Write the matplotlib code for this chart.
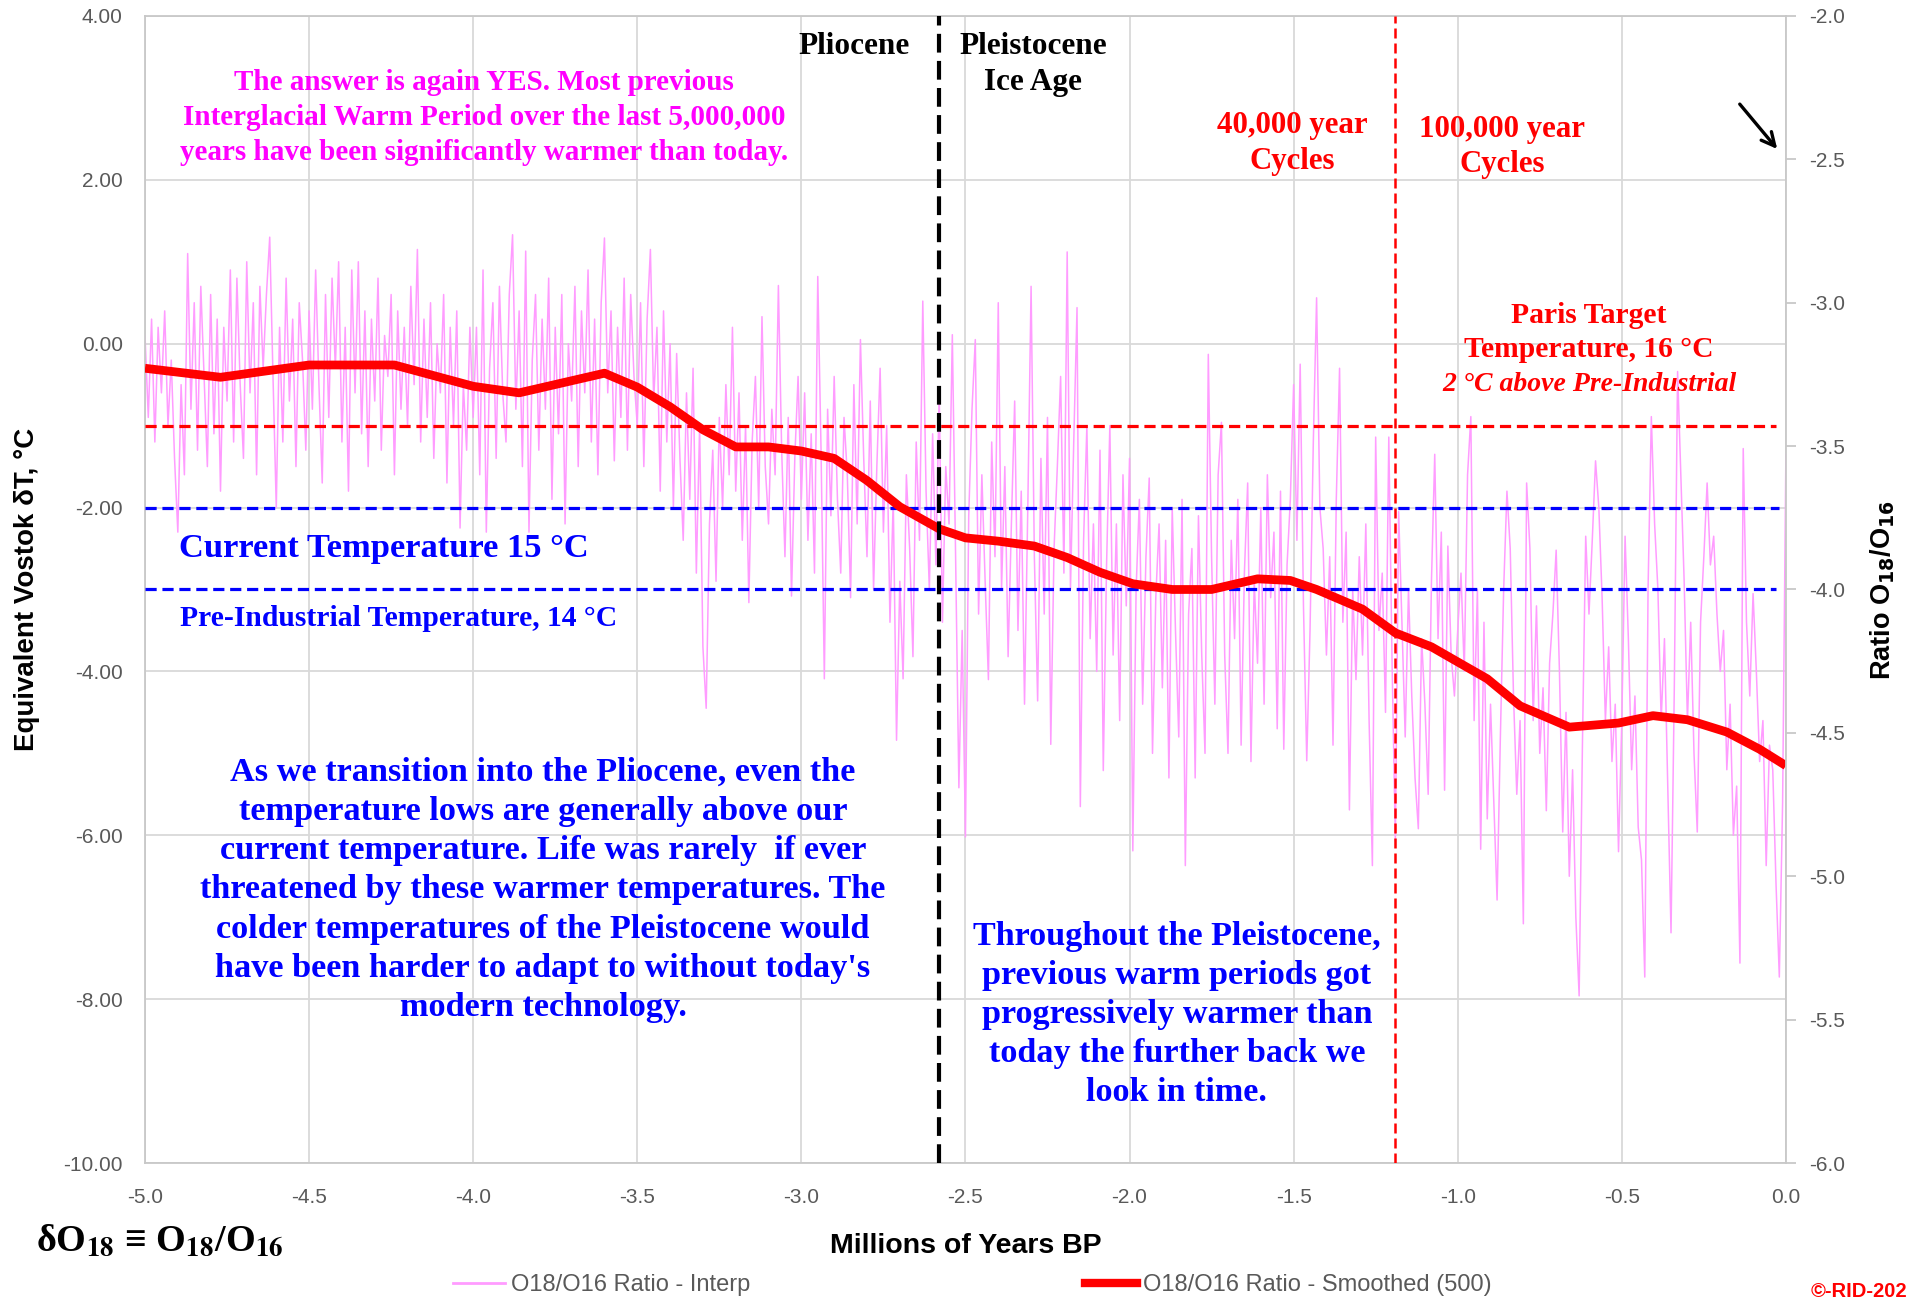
import numpy as np
import matplotlib
matplotlib.use("Agg")
import matplotlib.pyplot as plt
from matplotlib.lines import Line2D

plt.rcParams['font.family'] = ['Liberation Sans', 'DejaVu Sans']

# ---- data ----
# interpolated O18/O16 series, expressed as equivalent Vostok dT, one value per 10 kyr
interp_age = np.round(np.arange(-5.0, 0.0001, 0.01), 2)
interp_t = [
    0.1, -0.9, 0.3, -1.2, 0.2, -0.6, 0.4, -1.0, -0.2, -1.4,
    -2.3, -0.5, -1.6, 1.1, -0.8, 0.5, -1.3, 0.7, -0.4, -1.5,
    0.6, -1.1, 0.3, -1.8, 0.2, -0.7, 0.9, -1.2, 0.8, -0.5,
    -1.4, 1.0, -0.6, 0.5, -1.6, 0.7, -0.3, 0.6, 1.3, -0.4,
    -2.0, 0.2, -1.2, 0.8, -0.7, 0.3, -1.5, 0.5, -0.2, -1.3,
    0.4, -0.8, 0.9, -0.5, -1.7, 0.6, -0.9, 0.8, -0.3, 1.0,
    -1.2, 0.2, -1.8, 0.9, -0.6, 1.0, -1.1, 0.4, -1.5, 0.3,
    -0.7, 0.8, -1.3, 0.1, -0.4, 0.6, -1.6, 0.4, -0.8, 0.2,
    -1.0, 0.7, -0.5, 1.15, -1.2, 0.3, -0.9, 0.5, -1.4, 0.0,
    -0.6, 0.6, -1.7, 0.2, -1.0, 0.4, -2.25, -0.5, -1.3, 0.2,
    -0.9, 0.2, -1.6, 0.9, -2.3, -0.3, 0.5, -1.4, 0.7, -0.6,
    -1.2, 0.6, 1.33, -0.8, 0.4, -1.5, 1.13, -2.3, -0.2, 0.6,
    -1.3, 0.3, -0.8, 0.8, -1.9, 0.2, -1.1, 0.6, -2.2, 0.0,
    -0.7, 0.7, -1.5, 0.4, -0.6, 0.9, -1.2, 0.3, -1.6, 0.5,
    1.29, -0.6, 0.4, -1.43, 0.2, -0.9, 0.8, -1.3, 0.6, -0.4,
    -1.0, 0.5, -1.5, 0.3, 1.15, -0.7, 0.2, -1.8, 0.4, -1.2,
    0.0, -2.0, -0.12, -1.4, -2.4, -0.6, -1.9, -0.3, -2.8, -1.0,
    -3.7, -4.45, -2.2, -1.3, -2.9, -0.9, -2.0, -0.5, -1.6, 0.2,
    -1.8, -0.6, -2.4, -1.0, -3.16, -1.2, -0.4, -2.0, 0.33, -1.5,
    -2.2, -0.8, -1.6, 0.71, -1.3, -2.6, -0.9, -3.08, -1.4, -0.4,
    -1.9, -0.6, -2.4, -1.1, -2.8, 0.82, -1.3, -4.09, -0.8, -2.1,
    -0.4, -1.9, -2.8, -0.9, -1.6, -3.1, -0.5, -2.2, 0.05, -1.4,
    -2.6, -0.7, -3.0, -1.5, -0.3, -2.3, -1.0, -3.4, -1.9, -4.84,
    -2.9, -4.09, -1.6, -2.5, -3.82, -1.2, -2.4, 0.52, -1.8, -3.0,
    -1.1, -2.7, -0.6, -3.4, -1.5, -2.2, 0.11, -2.6, -5.42, -3.5,
    -6.02, -2.1, -0.8, 0.05, -3.3, -1.6, -2.9, -4.1, -1.2, -2.6,
    0.5, -3.0, -1.5, -3.82, -2.2, -0.7, -3.5, -1.8, -4.4, -2.0,
    0.70, -2.6, -4.36, -1.4, -3.3, -0.9, -4.89, -2.5, -1.5, -0.4,
    -2.8, 1.12, -3.0, -1.2, 0.44, -5.65, -2.4, -1.0, -3.6, -2.2,
    -4.0, -1.3, -5.21, -2.7, -1.0, -3.8, -2.2, -4.6, -1.6, -3.2,
    -1.40, -6.19, -3.0, -1.9, -4.4, -2.6, -1.64, -5.0, -3.1, -2.2,
    -4.2, -2.4, -5.3, -2.0, -3.5, -4.8, -1.9, -6.37, -3.3, -2.5,
    -5.3, -2.1, -3.8, -5.0, -0.13, -2.6, -4.4, -1.6, -0.96, -3.8,
    -5.0, -2.4, -3.6, -1.9, -4.9, -2.8, -1.7, -5.1, -2.9, -3.9,
    -2.0, -4.4, -1.6, -3.1, -2.3, -4.7, -1.8, -4.95, -2.7, -1.9,
    -0.5, -2.4, -0.25, -3.2, -5.09, -3.5, -1.2, 0.56, -2.0, -2.5,
    -3.8, -2.6, -4.9, -1.9, -0.3, -3.4, -2.3, -5.69, -3.0, -4.1,
    -2.6, -3.8, -2.2, -4.6, -6.37, -1.14, -3.5, -2.8, -4.5, -1.14,
    -3.9, -6.07, -2.05, -3.4, -4.8, -3.0, -4.3, -5.3, -5.92, -3.6,
    -4.4, -5.5, -2.9, -1.35, -3.6, -2.3, -5.45, -2.47, -3.8, -4.3,
    -3.5, -2.8, -4.0, -1.6, -0.89, -4.6, -3.0, -6.17, -3.4, -5.8,
    -4.4, -5.6, -6.79, -4.8, -3.0, -1.8, -2.5, -4.3, -5.5, -4.6,
    -7.08, -1.70, -2.5, -4.6, -3.2, -5.0, -4.2, -5.7, -3.9, -3.3,
    -2.52, -4.0, -5.96, -4.5, -6.5, -5.2, -7.0, -7.96, -4.9, -2.35,
    -3.3, -2.4, -1.43, -2.0, -3.1, -4.6, -3.7, -5.1, -4.4, -6.2,
    -4.6, -2.35, -3.6, -5.2, -4.3, -5.9, -6.3, -7.73, -3.0, -0.89,
    -2.2, -3.0, -4.6, -3.6, -5.4, -7.19, -4.2, -0.34, -1.6, -2.9,
    -4.6, -3.4, -5.0, -5.96, -3.4, -2.6, -1.70, -2.7, -2.35, -3.3,
    -4.0, -3.5, -5.2, -4.4, -6.0, -5.4, -7.56, -1.28, -3.4, -4.3,
    -3.05, -4.0, -5.1, -4.6, -6.37, -4.9, -5.2, -6.6, -7.73, -5.6,
    -1.35,
]

# smoothed (500) curve
smooth_age = [-5.0, -4.77, -4.5, -4.24, -4.0, -3.86, -3.6, -3.5, -3.4, -3.3,
              -3.2, -3.1, -3.0, -2.9, -2.8, -2.7, -2.58, -2.5, -2.4, -2.29,
              -2.19, -2.09, -1.99, -1.87, -1.75, -1.61, -1.51, -1.43, -1.29, -1.19,
              -1.08, -0.98, -0.91, -0.81, -0.66, -0.51, -0.405, -0.30, -0.18, -0.08, 0.0]
smooth_t = [-0.30, -0.41, -0.26, -0.26, -0.52, -0.60, -0.36, -0.53, -0.77, -1.05,
            -1.26, -1.26, -1.31, -1.40, -1.67, -1.99, -2.26, -2.37, -2.41, -2.47,
            -2.61, -2.79, -2.93, -3.0, -3.0, -2.87, -2.89, -3.0, -3.24, -3.53,
            -3.70, -3.93, -4.09, -4.42, -4.68, -4.63, -4.54, -4.59, -4.74, -4.95, -5.15]

# reference levels
paris_level = -1.0        # 16 C
current_level = -2.0      # 15 C
preind_level = -3.0       # 14 C
pliocene_boundary = -2.58
cycle_change = -1.19

x_ticks = [-5.0, -4.5, -4.0, -3.5, -3.0, -2.5, -2.0, -1.5, -1.0, -0.5, 0.0]
y_ticks = [4, 2, 0, -2, -4, -6, -8, -10]
ratio_ticks = [-2.0, -2.5, -3.0, -3.5, -4.0, -4.5, -5.0, -5.5, -6.0]

assert len(interp_t) == len(interp_age)

# ---- figure ----
pink = '#FF9CFF'
grey_txt = '#595959'
grid_c = '#D9D9D9'
serif = ['Liberation Serif', 'DejaVu Serif']

fig = plt.figure(figsize=(19.08, 12.97), dpi=100)
ax = fig.add_axes([0.076, 0.1033, 0.86, 0.8844])

ax.plot(interp_age, interp_t, color=pink, lw=1.1, zorder=2)
ax.plot(smooth_age, smooth_t, color='#FF0000', lw=6.3, zorder=4,
        solid_capstyle='butt', solid_joinstyle='round')

ax.plot([-5.0, -0.03], [paris_level] * 2, color='#FF0000', lw=2.3,
        dashes=(3.5, 1.8), zorder=3)
ax.plot([-5.0, -0.02], [current_level] * 2, color='#0000FF', lw=2.3,
        dashes=(3.5, 1.8), zorder=3)
ax.plot([-5.0, -0.03], [preind_level] * 2, color='#0000FF', lw=2.3,
        dashes=(3.5, 1.8), zorder=3)
ax.axvline(pliocene_boundary, color='black', lw=3, dashes=(4.5, 2), zorder=5)
ax.axvline(cycle_change, color='#FF0000', lw=1.8, dashes=(4, 2), zorder=5)

ax.set_xlim(-5, 0)
ax.set_ylim(-10, 4)
ax.set_xticks(x_ticks)
ax.set_xticklabels([f'{v:.1f}' for v in x_ticks])
ax.set_yticks(y_ticks)
ax.set_yticklabels([f'{v:.2f}' for v in y_ticks])
ax.grid(True, color=grid_c, lw=1.3, zorder=0)
ax.set_axisbelow(True)
ax.tick_params(axis='both', length=0, labelsize=15, labelcolor=grey_txt)
ax.tick_params(axis='y', pad=16)
ax.tick_params(axis='x', pad=18)
for s in ax.spines.values():
    s.set_color('#C8C8C8')
    s.set_linewidth(1.3)
ax.spines['right'].set_visible(False)

ax.set_ylabel('Equivalent Vostok δT, °C', fontsize=20, fontweight='bold')
ax.yaxis.set_label_coords(-0.064, 0.5)
ax.set_xlabel('Millions of Years BP', fontsize=20.5, fontweight='bold')
ax.xaxis.set_label_coords(0.5, -0.061)

ax2 = ax.twinx()
ax2.set_ylim(-6, -2)
ax2.set_yticks(ratio_ticks)
ax2.set_yticklabels([f'{v:.1f}' for v in ratio_ticks])
ax2.tick_params(axis='y', length=7, width=1.3, color='#C8C8C8', pad=10,
                labelsize=15, labelcolor=grey_txt)
for k in ['left', 'top', 'bottom']:
    ax2.spines[k].set_visible(False)
ax2.spines['right'].set_color('#C8C8C8')
ax2.spines['right'].set_linewidth(1.3)
ax2.set_ylabel(r'Ratio O$_{\mathbf{18}}$/O$_{\mathbf{16}}$', fontsize=19.5,
               fontweight='bold')
ax2.yaxis.set_label_coords(1.0505, 0.5)

# ---- annotations ----
def note(x, y, s, color, size, ha='center', style='normal', ls=1.3):
    ax.text(x, y, s, color=color, fontsize=size, fontweight='bold', ha=ha,
            va='center', family=serif, style=style, linespacing=ls, zorder=6)

note(-3.967, 2.755, 'The answer is again YES. Most previous\n'
     'Interglacial Warm Period over the last 5,000,000\n'
     'years have been significantly warmer than today.', '#FF00FF', 21, ls=1.38)
note(-2.84, 3.63, 'Pliocene', 'black', 22.5)
note(-2.294, 3.41, 'Pleistocene\nIce Age', 'black', 22.5, ls=1.3)
note(-1.505, 2.444, '40,000 year\nCycles', '#FF0000', 22.2, ls=1.3)
note(-0.865, 2.40, '100,000 year\nCycles', '#FF0000', 22.2, ls=1.3)
note(-0.600, 0.137, 'Paris Target\nTemperature, 16 °C', '#FF0000', 21.3, ls=1.3)
note(-0.600, -0.504, '2 °C above Pre-Industrial', '#FF0000', 20, style='italic')
note(-4.896, -2.505, 'Current Temperature 15 °C', '#0000FF', 24.8, ha='left')
note(-4.893, -3.36, 'Pre-Industrial Temperature, 14 °C', '#0000FF', 21.3, ha='left')
note(-3.787, -6.667, 'As we transition into the Pliocene, even the\n'
     'temperature lows are generally above our\n'
     'current temperature. Life was rarely  if ever\n'
     'threatened by these warmer temperatures. The\n'
     'colder temperatures of the Pleistocene would\n'
     "have been harder to adapt to without today's\n"
     'modern technology.', '#0000FF', 24.7, ls=1.34)
note(-1.856, -8.19, 'Throughout the Pleistocene,\n'
     'previous warm periods got\n'
     'progressively warmer than\n'
     'today the further back we\n'
     'look in time.', '#0000FF', 24.6, ls=1.33)

ax.annotate('', xy=(-0.021, 2.35), xytext=(-0.146, 2.95),
            arrowprops=dict(arrowstyle='->', color='black', lw=2.4,
                            mutation_scale=24), zorder=6)

fig.text(0.019, 0.043, r'δO$_{\mathbf{18}}$ ≡ O$_{\mathbf{18}}$/O$_{\mathbf{16}}$',
         fontsize=27.5, fontweight='bold', family=serif, math_fontfamily='stix',
         va='center', ha='left')

leg_kw = dict(loc='center left', frameon=False, fontsize=17, labelcolor=grey_txt,
              handlelength=2.2, handletextpad=0.25, borderpad=0, borderaxespad=0)
fig.legend([Line2D([], [], color=pink, lw=2)], ['O18/O16 Ratio - Interp'],
           bbox_to_anchor=(453 / 1908, 0.009), **leg_kw)
fig.legend([Line2D([], [], color='#FF0000', lw=6)], ['O18/O16 Ratio - Smoothed (500)'],
           bbox_to_anchor=(1085 / 1908, 0.009), **leg_kw)

# copyright mark runs off the right edge, as in the original
fig.text(0.949, 0.004, '©-RID-2020', color='#FF0000', fontsize=14.5,
         fontweight='bold', ha='left', va='center')

fig.savefig('out.png', dpi=100)
